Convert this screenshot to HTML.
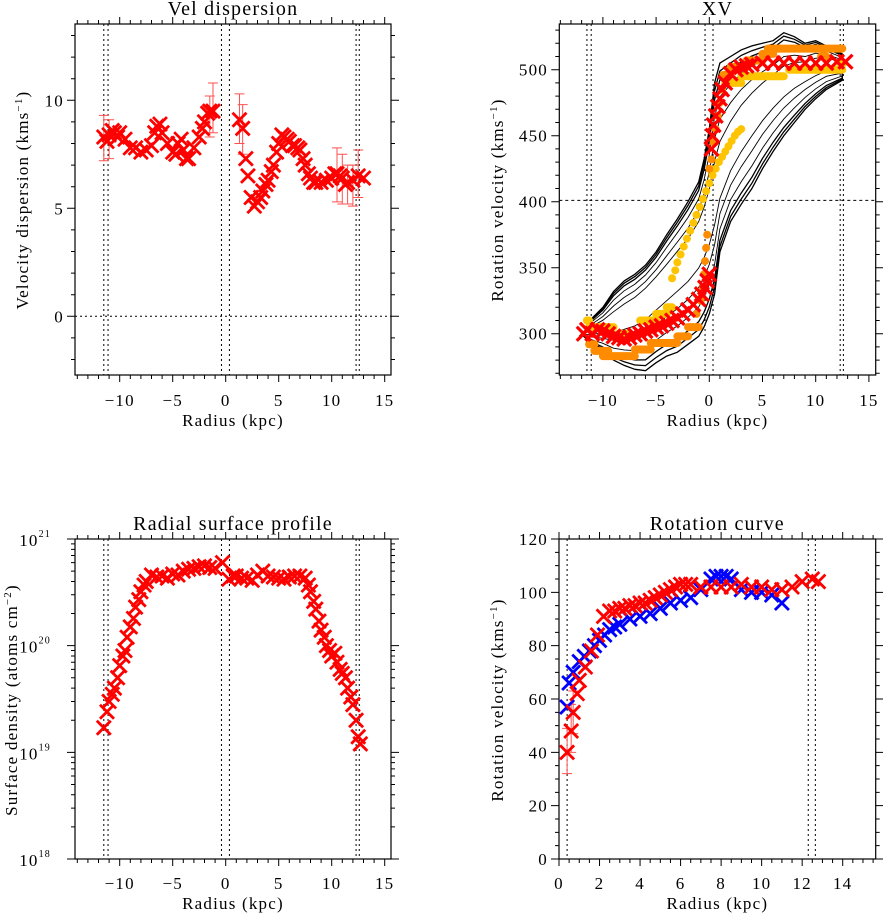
<!DOCTYPE html>
<html><head><meta charset="utf-8"><style>
body{margin:0;background:#fff}
svg{display:block}
text{font-family:"Liberation Serif",serif;fill:#000;letter-spacing:1.2px}
</style></head><body>
<svg id="s" width="883" height="913" viewBox="0 0 883 913" xmlns="http://www.w3.org/2000/svg"></svg>
<script>
// ---------- DATA ----------
const dispLeftX=[-11.5,-11.2,-11,-10.7,-10.5,-10.2,-10,-9.5,-9,-8.5,-8,-7.5,-7,-6.7,-6.5,-6.2,-6,-5.5,-5,-4.7,-4.5,-4.2,-4,-3.7,-3.5,-3,-2.5,-2.2,-2,-1.7,-1.5,-1.2];
const dispLeftV=[8.3,8.1,8.4,8.6,8.5,8.3,8.5,8.2,7.8,7.8,7.6,7.7,7.9,8.5,8.8,8.9,8.5,8.0,7.6,7.5,8.0,8.2,7.7,7.3,7.3,7.8,8.3,8.7,9.0,9.4,9.5,9.5];
const dispRightX=[1.3,1.6,1.9,2.1,2.4,2.7,3.0,3.3,3.5,3.8,4,4.3,4.5,4.8,5,5.3,5.5,5.8,6,6.3,6.5,6.8,7,7.3,7.5,7.8,8,8.3,8.5,9,9.5,10,10.3,10.5,10.8,11,11.3,11.5,12,12.5,13];
const dispRightV=[9.1,8.7,7.3,6.5,5.5,5.1,5.3,5.5,5.8,6.1,6.3,6.7,7.0,7.6,8.0,8.4,8.3,8.2,8.1,7.9,7.9,7.8,7.7,7.3,7.0,6.6,6.4,6.2,6.2,6.2,6.3,6.4,6.6,6.6,6.5,6.4,6.1,6.2,6.3,6.5,6.4];
const dispErrX=[-11.5,-11,-1.5,-1.2,1.3,1.6,10.5,11,11.5,12,12.5];
const dispErrLo=[7.2,7.3,8.3,8.5,8.0,7.5,5.3,5.2,5.2,5.1,5.5];
const dispErrHi=[9.3,9.1,10.2,10.8,10.3,9.8,7.8,7.5,7.0,7.0,7.7];
const edgeX=[-11.5,-11.1,-0.4,0.35,12.3,12.6];

const xvX=[-11.8,-11,-10,-9,-8,-7,-6,-5,-4,-3,-2,-1,-0.5,0,0.5,1,2,3,4,5,6,7,8,9,10,11,12.5];
const xvUpper=[300,312,320,332,340,345,352,362,375,387,400,415,432,455,490,505,510,515,518,520,522,528,525,520,522,518,512];
const xvLower=[298,292,287,280,276,273,272,278,283,286,292,298,305,315,330,362,385,398,410,425,438,450,460,470,478,485,492];
const xvCenter=[299,303,306,310,315,320,327,335,343,352,360,372,380,390,405,420,440,455,467,477,485,492,497,500,503,505,503];
const contourLevels=[1,0.93,0.85,0.7,0.5,0.3];
const xvRedX=[-11.8,-11.5,-11,-10.5,-10,-9.5,-9,-8.5,-8,-7.5,-7,-6.5,-6,-5.5,-5,-4.5,-4,-3.5,-3,-2.5,-2,-1.5,-1,-0.7,-0.4,-0.2,0,0.2,0.3,0.4,0.6,0.8,1,1.2,1.5,2,2.5,3,3.5,4,5,6,7,8,9,10,11,12,12.8];
const xvRedV=[300,303,300,303,302,300,298,297,296,297,299,300,302,303,305,306,308,310,312,315,318,322,326,330,335,340,345,440,450,458,465,472,478,485,490,497,500,502,503,504,505,505,505,505,505,505,505,506,506];
const orangeSegs=[[-11.3,-10.8,292],[-10.8,-9.5,287],[-10,-7,283],[-7,-5.5,288],[-5.5,-3,293],[-3,-2,298],[-2,-1,305],[1.3,2,496],[2,3.5,502],[3.5,5,507],[5,6,512],[5.5,12.5,516],[10.5,11,510]];
const orangeDotX=[-1.2,-0.8,-0.6,-0.5,-0.4,-0.3,-0.2,0,0.2,0.4,0.6,0.8,1,1.2];
const orangeDotV=[315,325,335,345,355,365,375,425,432,445,455,465,475,485];
const yellowSegs=[[-11.5,-11.3,310],[-11.3,-9,305],[-8.5,-7.5,300],[-6.5,-5,310],[-5,-4,315],[-4,-3.5,320],[1.5,3,490],[3,7,495],[7.5,12.5,500],[12.3,12.6,505]];
const yellowDotX=[-3.5,-3.2,-3,-2.7,-2.4,-2.1,-1.8,-1.5,-1.2,-0.9,-0.6,-0.3,0,0.3,0.6,0.9,1.2,1.5,1.8,2.1,2.4,2.7,3.0];
const yellowDotV=[342,348,354,360,366,372,378,384,390,396,402,408,414,420,425,430,434,438,442,446,450,453,455];

const sdX=[-11.5,-11.2,-11,-10.7,-10.5,-10.2,-10,-9.7,-9.5,-9.3,-9,-8.7,-8.5,-8.2,-8,-7.7,-7.5,-7,-6.5,-6,-5.5,-5,-4.5,-4,-3.5,-3,-2.5,-2,-1.5,-1,-0.3,0.3,0.7,1,1.5,2,2.5,3,3.5,4,4.5,5,5.5,6,6.5,7,7.5,7.8,8,8.3,8.5,8.8,9,9.3,9.5,9.8,10,10.3,10.5,10.8,11,11.3,11.5,11.8,12,12.3,12.5,12.7];
const sdV=[1.7e19,2.4e19,3e19,3.5e19,4e19,5e19,6.5e19,8e19,9e19,1.2e20,1.5e20,1.8e20,2.3e20,2.7e20,3.2e20,3.7e20,4e20,4.6e20,4.4e20,4.5e20,4.3e20,4.7e20,4.6e20,5e20,5.2e20,5.3e20,5.5e20,5.6e20,5.4e20,5.3e20,6e20,4.2e20,4.5e20,4.5e20,4.3e20,4.3e20,4.1e20,4.6e20,5e20,4.5e20,4.4e20,4.3e20,4.2e20,4.4e20,4.5e20,4.5e20,4.3e20,3.7e20,3.2e20,2.6e20,2.2e20,1.7e20,1.4e20,1.2e20,1e20,9e19,8e19,8.5e19,7e19,6e19,5.5e19,5e19,4e19,3.3e19,2.8e19,2e19,1.4e19,1.2e19];

const rcBlueX=[0.4,0.5,0.7,1,1.25,1.5,1.75,2,2.25,2.5,2.75,3,3.5,4,4.5,5,5.5,6,6.5,7,7.5,7.75,8,8.25,8.5,9,9.5,10,10.5,11];
const rcBlueV=[57,66,70,74,76,78,80,82,84,86,87,88,90,91,92,94,96,97,98,101,105,106,106,106,105,101,100,100,99,96];
const rcRedX=[0.4,0.6,0.7,0.9,1,1.3,1.6,1.9,2.2,2.5,2.75,3,3.25,3.5,3.75,4,4.25,4.5,4.75,5,5.25,5.5,5.75,6,6.25,6.5,7,7.5,8,8.5,9,9.5,10,10.5,11,11.5,12,12.5,12.8];
const rcRedV=[40,48,55,62,67,72,78,84,91,93,93,94,94,95,95,96,96,97,98,99,100,101,102,103,103,103,102,102,102,102,103,102,102,101,101,102,104,105,104];
const rcErrX=[0.4,0.6,0.7];
const rcErrLo=[32,40,47];
const rcErrHi=[49,58,63];
const rcEdgeX=[0.4,12.3,12.65];

// ---------- HELPERS ----------
const NS="http://www.w3.org/2000/svg";
const svg=document.getElementById('s');
function mk(tag,attrs,parent){const e=document.createElementNS(NS,tag);for(const k in attrs)e.setAttribute(k,attrs[k]);(parent||svg).appendChild(e);return e;}
function grp(name){const g=mk('g',{});


return g;}
function lin(d0,d1,r0,r1){return v=>r0+(v-d0)*(r1-r0)/(d1-d0);}
function cross(g,x,y,s,c,w){mk('path',{d:`M${x-s},${y-s}L${x+s},${y+s}M${x-s},${y+s}L${x+s},${y-s}`,stroke:c,'stroke-width':w,fill:'none'},g);}
function txt(g,x,y,str,size,anchor){const t=mk('text',{x:x,y:y,'font-size':size,'text-anchor':anchor||'middle'},g);t.textContent=str;return t;}

function frame(name,L,R,T,B,xs,xmaj,xmin,xr,ys,ymaj,ymin,xlabels,title,titleY,xlabY,xtitY){
  const g=grp(name);
  mk('rect',{x:L,y:T,width:R-L,height:B-T,fill:'none',stroke:'#000','stroke-width':1.2},g);
  const tk=grp(name+'-ticks');g.appendChild(tk);
  let p='';
  for(let v=Math.ceil(xr[0]/xmin)*xmin;v<=xr[1]+1e-9;v+=xmin){const X=xs(v);const maj=Math.abs(v/xmaj-Math.round(v/xmaj))<1e-6;const l=maj?7:4;p+=`M${X},${B}v${l}M${X},${T}v${-l}`;}
  ymin.forEach(v=>{const Y=ys(v);p+=`M${L},${Y}h-4M${R},${Y}h4`;});
  ymaj.forEach(v=>{const Y=ys(v);p+=`M${L},${Y}h-8M${R},${Y}h8`;});
  mk('path',{d:p,stroke:'#000','stroke-width':1,fill:'none'},tk);
  xlabels.forEach(v=>{const t=txt(g,xs(v),xlabY,(v<0?'\u2212':'')+Math.abs(v),17);
    
    });
  const tt=txt(g,(L+R)/2,titleY,title,20);
  
  
  const xt=txt(g,(L+R)/2,xtitY,'Radius (kpc)',17);
  
  
  return g;
}
function ytitle(g,x,y,main,sup){const t=mk('text',{x:x,y:y,'font-size':17,'text-anchor':'middle',transform:`rotate(-90 ${x} ${y})`},g);


t.appendChild(document.createTextNode(main));const s=mk('tspan',{'font-size':11,dy:-6},t);s.textContent=sup;const e=mk('tspan',{dy:6},t);e.textContent=')';}
function ylab(g,x,y,str){const t=txt(g,x,y+6,str,17,'end');

}
function vdash(g,xs,T,B,xsArr){xsArr.forEach(v=>mk('line',{x1:xs(v),x2:xs(v),y1:T,y2:B,stroke:'#000','stroke-width':1,'stroke-dasharray':'2,3'},g));}

// ---------- PANEL 1: Vel dispersion ----------
(function(){
 const L=75,R=391,T=24,B=375;
 const xs=lin(0,10,225.7,331.7), ys=lin(0,10,316.3,100.3);
 const ymin=[];for(let v=-2;v<=13;v++)ymin.push(v);
 const g=frame('vel-dispersion-panel',L,R,T,B,xs,5,1,[-14,15],ys,[0,5,10],ymin,[-10,-5,0,5,10,15],'Vel dispersion',15,406,426);
 [0,5,10].forEach(v=>ylab(g,64,ys(v),String(v)));
 ytitle(g,28,200,'Velocity dispersion (kms','\u22121');
 vdash(g,xs,T,B,edgeX);
 mk('line',{x1:L,x2:R,y1:ys(0),y2:ys(0),stroke:'#000','stroke-width':1,'stroke-dasharray':'2,3'},g);
 const eb=grp('dispersion-error-bars');g.appendChild(eb);
 dispErrX.forEach((x,i)=>{const X=xs(x),y1=ys(dispErrLo[i]),y2=ys(dispErrHi[i]);
  mk('path',{d:`M${X},${y1}V${y2}M${X-5},${y1}h10M${X-5},${y2}h10`,stroke:'#ff5050','stroke-width':1,fill:'none'},eb);});
 const pts=grp('dispersion-points');g.appendChild(pts);
 dispLeftX.forEach((x,i)=>cross(pts,xs(x),ys(dispLeftV[i]),7,'#ff0000',2.8));
 dispRightX.forEach((x,i)=>cross(pts,xs(x),ys(dispRightV[i]),7,'#ff0000',2.8));
})();

// ---------- PANEL 2: XV ----------
(function(){
 const L=559.3,R=875.7,T=24,B=375;
 const xs=lin(0,10,709.3,815.7), ys=lin(300,500,333.7,69.7);
 const ymin=[];for(let v=270;v<=530;v+=10)ymin.push(v);
 const g=frame('xv-panel',L,R,T,B,xs,5,1,[-14,15],ys,[300,350,400,450,500],ymin,[-10,-5,0,5,10,15],'XV',15,406,426);
 [300,350,400,450,500].forEach(v=>ylab(g,548,ys(v),String(v)));
 ytitle(g,503,200,'Rotation velocity (kms','\u22121');
 const cg=grp('xv-contours');g.appendChild(cg);
 contourLevels.forEach(f=>{
  let d='';
  xvX.forEach((x,i)=>{const v=xvCenter[i]+f*(xvUpper[i]-xvCenter[i]);d+=(i?'L':'M')+xs(x).toFixed(1)+','+ys(v).toFixed(1);});
  for(let i=xvX.length-1;i>=0;i--){const v=xvCenter[i]+f*(xvLower[i]-xvCenter[i]);d+='L'+xs(xvX[i]).toFixed(1)+','+ys(v).toFixed(1);}
  mk('path',{d:d+'Z',fill:'none',stroke:'#000','stroke-width':f>0.8?1.3:0.9},cg);
 });
 vdash(g,xs,T,B,edgeX);
 mk('line',{x1:L,x2:R,y1:ys(401),y2:ys(401),stroke:'#000','stroke-width':1,'stroke-dasharray':'3,3'},g);
 const yg=grp('xv-yellow-points');g.appendChild(yg);
 yellowSegs.forEach(s=>mk('line',{x1:xs(s[0]),x2:xs(s[1]),y1:ys(s[2]),y2:ys(s[2]),stroke:'#ffc400','stroke-width':8,'stroke-linecap':'round'},yg));
 yellowDotX.forEach((x,i)=>mk('circle',{cx:xs(x),cy:ys(yellowDotV[i]),r:4,fill:'#ffc400'},yg));
 const og=grp('xv-orange-points');g.appendChild(og);
 orangeSegs.forEach(s=>mk('line',{x1:xs(s[0]),x2:xs(s[1]),y1:ys(s[2]),y2:ys(s[2]),stroke:'#ff8c00','stroke-width':8,'stroke-linecap':'round'},og));
 orangeDotX.forEach((x,i)=>mk('circle',{cx:xs(x),cy:ys(orangeDotV[i]),r:4,fill:'#ff8c00'},og));
 const rg=grp('xv-red-points');g.appendChild(rg);
 xvRedX.forEach((x,i)=>cross(rg,xs(x),ys(xvRedV[i]),7,'#ff0000',3.2));
})();

// ---------- PANEL 3: Surface profile ----------
(function(){
 const L=75,R=391,T=539,B=859;
 const xs=lin(0,10,225.7,331.7), ys=v=>539+(21-Math.log10(v))*106.67;
 const ymin=[];for(let e=18;e<21;e++)for(let m=2;m<=9;m++)ymin.push(m*Math.pow(10,e));
 const g=frame('surface-profile-panel',L,R,T,B,xs,5,1,[-14,15],ys,[1e18,1e19,1e20,1e21],ymin,[-10,-5,0,5,10,15],'Radial surface profile',530,889,909);
 [18,19,20,21].forEach(e=>{const t=mk('text',{x:51,y:ys(Math.pow(10,e))+7,'font-size':17,'text-anchor':'end'},g);
  
  
  t.textContent='10';const s=mk('tspan',{'font-size':10,dy:-9},t);s.textContent=String(e);});
 ytitle(g,17,700,'Surface density (atoms cm','\u22122');
 vdash(g,xs,T,B,edgeX);
 const pg=grp('surface-density-points');g.appendChild(pg);
 sdX.forEach((x,i)=>cross(pg,xs(x),ys(sdV[i]),7,'#ff0000',2.8));
})();

// ---------- PANEL 4: Rotation curve ----------
(function(){
 const L=559,R=875.7,T=539,B=859;
 const xs=lin(0,14,559,842.7), ys=lin(0,120,859,539);
 const ymin=[];for(let v=0;v<=120;v+=5)ymin.push(v);
 const g=frame('rotation-curve-panel',L,R,T,B,xs,2,0.5,[0,15.5],ys,[0,20,40,60,80,100,120],ymin,[0,2,4,6,8,10,12,14],'Rotation curve',530,889,909);
 [0,20,40,60,80,100,120].forEach(v=>ylab(g,548,ys(v),String(v)));
 ytitle(g,503,700,'Rotation velocity (kms','\u22121');
 vdash(g,xs,T,B,rcEdgeX);
 const eb=grp('rotation-error-bars');g.appendChild(eb);
 rcErrX.forEach((x,i)=>{const X=xs(x),y1=ys(rcErrLo[i]),y2=ys(rcErrHi[i]);
  mk('path',{d:`M${X},${y1}V${y2}M${X-5},${y1}h10M${X-5},${y2}h10`,stroke:'#ff5050','stroke-width':1,fill:'none'},eb);});
 const bg=grp('rotation-blue-points');g.appendChild(bg);
 rcBlueX.forEach((x,i)=>cross(bg,xs(x),ys(rcBlueV[i]),7,'#0000ff',2.8));
 const rg=grp('rotation-red-points');g.appendChild(rg);
 rcRedX.forEach((x,i)=>cross(rg,xs(x),ys(rcRedV[i]),7,'#ff0000',2.8));
})();
</script>
</body></html>
